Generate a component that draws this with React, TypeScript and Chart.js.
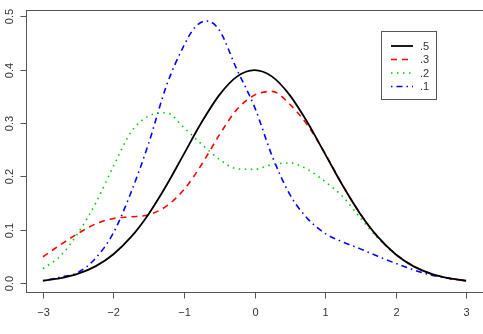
import React, { useEffect, useRef } from "react";
import { Chart, registerables } from "chart.js";

Chart.register(...registerables);

const X_GRID = [-3, -2.75, -2.5, -2.25, -2, -1.75, -1.5, -1.25, -1, -0.75, -0.5, -0.25, 0, 0.25, 0.5, 0.75, 1, 1.25, 1.5, 1.75, 2, 2.25, 2.5, 2.75, 3];
const SERIES_5 = [0.0044, 0.0091, 0.0175, 0.0317, 0.054, 0.0863, 0.1295, 0.1826, 0.242, 0.3011, 0.3521, 0.3867, 0.3989, 0.3867, 0.3521, 0.3011, 0.242, 0.1826, 0.1295, 0.0863, 0.054, 0.0317, 0.0175, 0.0091, 0.0044];
const SERIES_3 = [0.049, 0.072, 0.093, 0.111, 0.121, 0.124, 0.128, 0.144, 0.175, 0.222, 0.277, 0.325, 0.352, 0.359, 0.335, 0.296, 0.243, 0.183, 0.13, 0.086, 0.054, 0.032, 0.0175, 0.009, 0.0044];
const SERIES_2 = [0.027, 0.051, 0.094, 0.15, 0.219, 0.283, 0.313, 0.319, 0.291, 0.26, 0.232, 0.214, 0.213, 0.222, 0.225, 0.213, 0.19, 0.162, 0.122, 0.084, 0.054, 0.032, 0.0175, 0.009, 0.0044];
const X_BLUE = [-3, -2.75, -2.5, -2.25, -2, -1.75, -1.5, -1.25, -1, -0.85, -0.68, -0.5, -0.25, 0, 0.25, 0.5, 0.75, 1, 1.25, 1.5, 1.75, 2, 2.25, 2.5, 2.75, 3];
const SERIES_1 = [0.004, 0.011, 0.02, 0.047, 0.094, 0.17, 0.262, 0.369, 0.445, 0.478, 0.491, 0.474, 0.4, 0.33, 0.238, 0.166, 0.121, 0.093, 0.077, 0.064, 0.05, 0.037, 0.025, 0.015, 0.009, 0.004];

const X_TICKS = [-3, -2, -1, 0, 1, 2, 3];
const X_TICK_LABELS = ["\u22123", "\u22122", "\u22121", "0", "1", "2", "3"];
const Y_TICKS = [0, 0.1, 0.2, 0.3, 0.4, 0.5];
const Y_TICK_LABELS = ["0.0", "0.1", "0.2", "0.3", "0.4", "0.5"];
const LEGEND_LABELS = [".5", ".3", ".2", ".1"];

const FONT = "11px 'Liberation Sans', Arial, Helvetica, sans-serif";

const pts = (xs: number[], ys: number[]) => xs.map((x, i) => ({ x, y: ys[i] }));

const styles = [
  { color: "#000000", dash: [] as number[], width: 1.8 },
  { color: "#FF0000", dash: [6, 5], width: 1.6 },
  { color: "#00CD00", dash: [1.5, 4.5], width: 1.6 },
  { color: "#0000FF", dash: [1.5, 4, 6, 4], width: 1.6 },
];

const axesPlugin = {
  id: "rAxes",
  afterDraw(chart: any) {
    const ctx = chart.ctx;
    const xs = chart.scales.x;
    const ys = chart.scales.y;
    const ca = chart.chartArea;
    ctx.save();
    ctx.strokeStyle = "#555";
    ctx.lineWidth = 1;
    ctx.setLineDash([]);
    // box
    ctx.strokeRect(Math.round(ca.left) + 0.5, Math.round(ca.top) + 0.5, Math.round(ca.right - ca.left), Math.round(ca.bottom - ca.top));
    // x ticks
    ctx.fillStyle = "#333";
    ctx.font = FONT;
    ctx.textAlign = "center";
    ctx.textBaseline = "middle";
    const by = Math.round(ca.bottom) + 0.5;
    X_TICKS.forEach((v, i) => {
      const px = Math.round(xs.getPixelForValue(v)) + 0.5;
      ctx.beginPath();
      ctx.moveTo(px, by);
      ctx.lineTo(px, by + 6);
      ctx.stroke();
      ctx.fillText(X_TICK_LABELS[i], px, by + 20);
    });
    // y ticks
    const lx = Math.round(ca.left) + 0.5;
    Y_TICKS.forEach((v, i) => {
      const py = Math.round(ys.getPixelForValue(v)) + 0.5;
      ctx.beginPath();
      ctx.moveTo(lx, py);
      ctx.lineTo(lx - 6, py);
      ctx.stroke();
      ctx.save();
      ctx.translate(lx - 17, py);
      ctx.rotate(-Math.PI / 2);
      ctx.fillText(Y_TICK_LABELS[i], 0, 0);
      ctx.restore();
    });
    // legend
    const L = 381.5, T = 31.5, W = 55, H = 68;
    ctx.strokeRect(L, T, W, H);
    const rows = [46, 59.5, 73, 86.5];
    LEGEND_LABELS.forEach((lab, i) => {
      const s = styles[i];
      ctx.strokeStyle = s.color;
      ctx.lineWidth = s.width;
      ctx.setLineDash(s.dash);
      ctx.beginPath();
      ctx.moveTo(391, rows[i]);
      ctx.lineTo(413, rows[i]);
      ctx.stroke();
      ctx.setLineDash([]);
      ctx.fillStyle = "#333";
      ctx.textAlign = "left";
      ctx.fillText(lab, 420, rows[i] + 0.5);
    });
    ctx.restore();
  },
};

export default function App() {
  const ref = useRef<HTMLCanvasElement | null>(null);
  useEffect(() => {
    if (!ref.current) return;
    const data = [pts(X_GRID, SERIES_5), pts(X_GRID, SERIES_3), pts(X_GRID, SERIES_2), pts(X_BLUE, SERIES_1)];
    const chart = new Chart(ref.current, {
      type: "line",
      data: {
        datasets: data.map((d, i) => ({
          label: LEGEND_LABELS[i],
          data: d,
          borderColor: styles[i].color,
          borderWidth: styles[i].width,
          borderDash: styles[i].dash,
          pointRadius: 0,
          fill: false,
          cubicInterpolationMode: "monotone" as const,
        })),
      },
      options: {
        responsive: false,
        animation: false,
        layout: { padding: { left: 26, top: 10, right: 0, bottom: 42 } },
        plugins: { legend: { display: false }, tooltip: { enabled: false } },
        scales: {
          x: { type: "linear", min: -3.24, max: 3.24, display: false },
          y: { type: "linear", min: -0.0168, max: 0.5115, display: false },
        },
      },
      plugins: [axesPlugin],
    });
    return () => chart.destroy();
  }, []);
  return (
    <div style={{ position: "fixed", left: 0, top: 0, width: 483, height: 334, background: "#fff" }}>
      <canvas ref={ref} width={483} height={334} style={{ width: 483, height: 334 }} />
    </div>
  );
}
